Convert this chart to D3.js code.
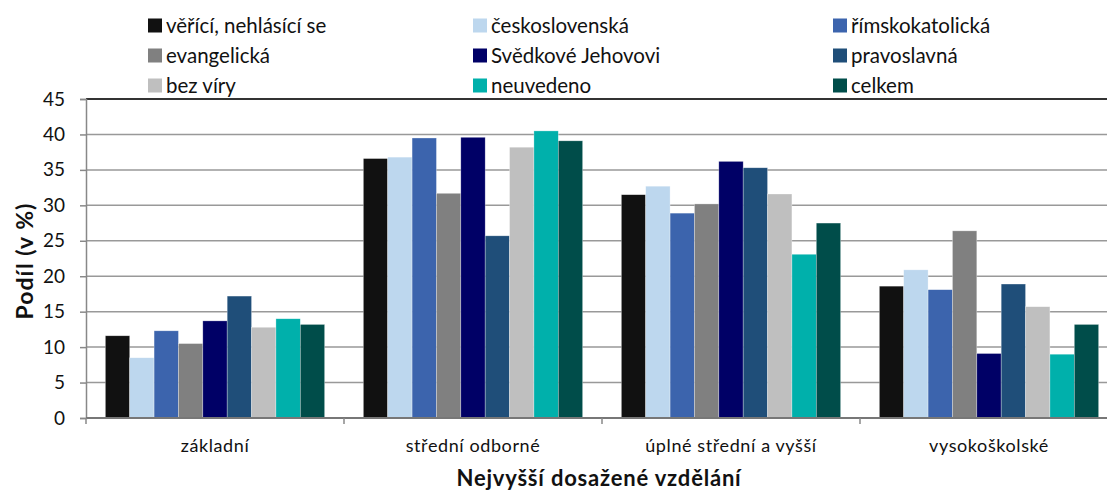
<!DOCTYPE html>
<html>
<head>
<meta charset="utf-8">
<script src="https://cdn.jsdelivr.net/npm/d3@7"></script>
<style>
body { margin: 0; background: #fff; }
svg text { font-family: Lato, "Open Sans", sans-serif; fill: #111; }
</style>
</head>
<body>
<svg id="chart" width="1107" height="492"></svg>
<script>
// education categories
var categories = ['základní', 'střední odborné', 'úplné střední a vyšší', 'vysokoškolské'];
var seriesNames = ['věřící, nehlásící se', 'československá', 'římskokatolická',
  'evangelická', 'Svědkové Jehovovi', 'pravoslavná', 'bez víry', 'neuvedeno', 'celkem'];
var seriesColors = ['#111111', '#bdd7ee', '#3c64ad', '#808080', '#000066',
  '#1f4e79', '#bfbfbf', '#00b0ab', '#004d4a'];
// values per series, one per category
var vericiNehlasici = [11.6, 36.6, 31.5, 18.6];
var ceskoslovenska  = [8.5, 36.8, 32.7, 20.9];
var rimskokatolicka = [12.3, 39.5, 28.9, 18.1];
var evangelicka     = [10.5, 31.7, 30.2, 26.4];
var svedkove        = [13.7, 39.6, 36.2, 9.1];
var pravoslavna     = [17.2, 25.7, 35.3, 18.9];
var bezViry         = [12.8, 38.2, 31.6, 15.7];
var neuvedeno       = [14.0, 40.5, 23.1, 9.0];
var celkem          = [13.2, 39.1, 27.5, 13.2];
var yTicks = [0, 5, 10, 15, 20, 25, 30, 35, 40, 45];

var values = [vericiNehlasici, ceskoslovenska, rimskokatolicka, evangelicka,
  svedkove, pravoslavna, bezViry, neuvedeno, celkem];

var svg = d3.select('#chart');
var plotLeft = 86, plotTop = 99, plotBottom = 418, plotRight = 1118;

var x0 = d3.scaleBand().domain(categories).range([plotLeft, plotRight]).paddingInner(0.15).paddingOuter(0.075);
var x1 = d3.scaleBand().domain(seriesNames).range([0, x0.bandwidth()]);
var y = d3.scaleLinear().domain([0, 45]).range([plotBottom, plotTop]);

// gridlines
svg.append('g').selectAll('line')
  .data(yTicks.filter(function(d) { return d > 0; }))
  .enter().append('line')
  .attr('x1', plotLeft).attr('x2', 1107)
  .attr('y1', function(d) { return y(d); })
  .attr('y2', function(d) { return y(d); })
  .attr('stroke', function(d) { return d === 45 ? '#333' : '#999'; })
  .attr('stroke-width', function(d) { return d === 45 ? 2 : 1.5; });

// bars
var groups = svg.append('g').selectAll('g')
  .data(seriesNames)
  .enter().append('g')
  .attr('fill', function(d, i) { return seriesColors[i]; });

groups.selectAll('rect')
  .data(function(d, i) {
    return values[i].map(function(v, j) { return { s: d, c: categories[j], v: v }; });
  })
  .enter().append('rect')
  .attr('x', function(d) { return x0(d.c) + x1(d.s); })
  .attr('width', x1.bandwidth())
  .attr('y', function(d) { return y(d.v); })
  .attr('height', function(d) { return plotBottom - y(d.v); })
  .attr('stroke', '#fff').attr('stroke-opacity', 0.5).attr('stroke-width', 0.6);

// y axis
var yAxis = svg.append('g')
  .attr('transform', 'translate(' + plotLeft + ',0)')
  .call(d3.axisLeft(y).tickValues(yTicks).tickSize(6).tickPadding(15));
yAxis.select('.domain').attr('stroke', '#888').attr('stroke-width', 1.5);
yAxis.selectAll('.tick line').attr('stroke', '#888').attr('stroke-width', 1.5);
yAxis.selectAll('text').style('font-size', '19px').style('font-family', 'Lato, sans-serif').attr('fill', '#111');

// x axis with ticks at category boundaries
var xAxis = svg.append('g').attr('transform', 'translate(0,' + plotBottom + ')');
xAxis.append('line').attr('x1', plotLeft).attr('x2', 1107)
  .attr('stroke', '#777').attr('stroke-width', 2);
var step = x0.step();
xAxis.selectAll('line.tk')
  .data(categories)
  .enter().append('line').attr('class', 'tk')
  .attr('x1', function(d) { return x0(d) - x0.paddingInner() * step / 2; })
  .attr('x2', function(d) { return x0(d) - x0.paddingInner() * step / 2; })
  .attr('y1', 0).attr('y2', 6)
  .attr('stroke', '#888').attr('stroke-width', 1.5);
xAxis.selectAll('text')
  .data(categories)
  .enter().append('text')
  .attr('x', function(d) { return x0(d) + x0.bandwidth() / 2; })
  .attr('y', 34)
  .attr('text-anchor', 'middle')
  .style('font-size', '18px')
  .style('letter-spacing', '0.6px')
  .text(function(d) { return d; });

// axis titles
svg.append('text')
  .attr('transform', 'translate(33,261) rotate(-90)')
  .attr('text-anchor', 'middle')
  .style('font-size', '23px').style('font-weight', 'bold')
  .style('letter-spacing', '1px')
  .text('Podíl (v %)');
svg.append('text')
  .attr('x', 599).attr('y', 486)
  .attr('text-anchor', 'middle')
  .style('font-size', '22px').style('font-weight', 'bold')
  .style('letter-spacing', '0.8px')
  .text('Nejvyšší dosažené vzdělání');

// legend 3 columns
var legendX = [148, 473, 833];
var legendY = [25, 55, 85];
var legend = svg.append('g').selectAll('g')
  .data(seriesNames)
  .enter().append('g')
  .attr('transform', function(d, i) {
    return 'translate(' + legendX[i % 3] + ',' + legendY[Math.floor(i / 3)] + ')';
  });
legend.append('rect')
  .attr('x', 0).attr('y', -6.5).attr('width', 14).attr('height', 14)
  .attr('fill', function(d, i) { return seriesColors[i]; });
legend.append('text')
  .attr('x', 18).attr('y', 7.5)
  .style('font-size', '20.5px')
  .text(function(d) { return d; });
</script>
</body>
</html>
